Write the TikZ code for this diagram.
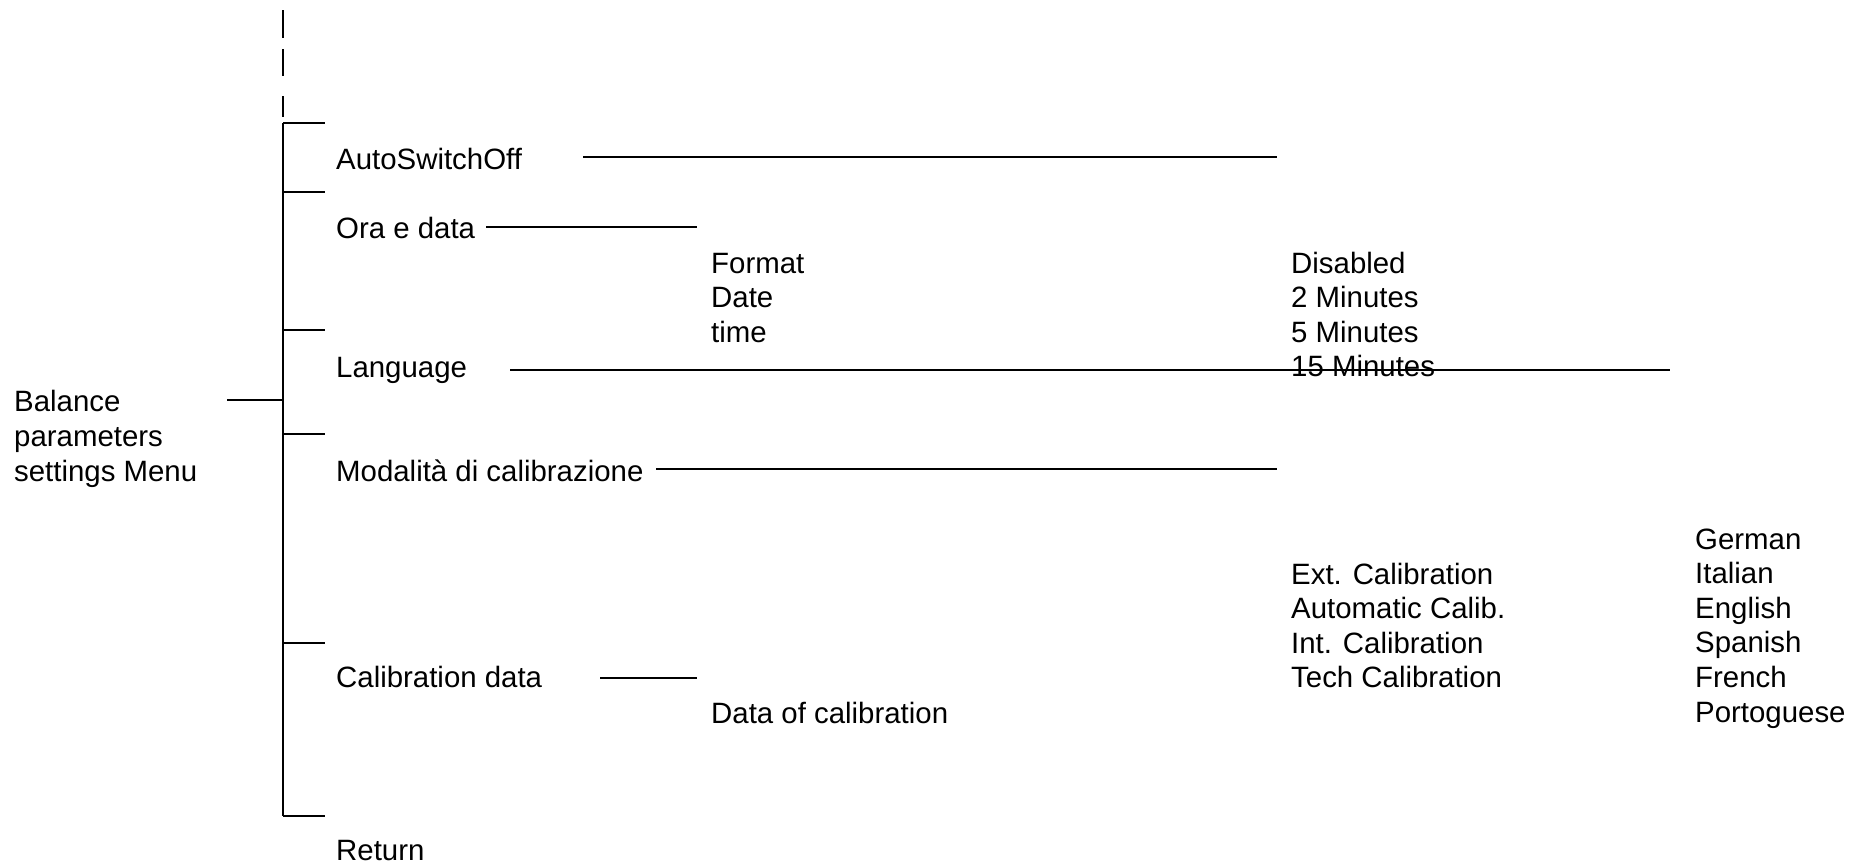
\documentclass[tikz,border=0pt]{standalone}
\usepackage{fontspec}
\setmainfont{Liberation Sans}
\begin{document}
\begin{tikzpicture}[x=1pt,y=-1pt,
  lbl/.style={inner sep=0pt, anchor=base west, font=\fontsize{29.4}{34.8}\selectfont},
  conn/.style={line width=2.4pt},
  thinconn/.style={line width=1.7pt}]
\useasboundingbox (0,0) rectangle (1851,863);
% trunk
\coordinate (dashTop) at (283,10);
\coordinate (dashBot) at (283,117);
\coordinate (trTop) at (283,123);
\coordinate (trBot) at (283,816);
\draw[conn, dash pattern=on 28pt off 11pt on 27pt off 20pt on 30pt off 10pt] (dashTop) -- (dashBot);
\draw[conn] (trTop) -- (trBot);
% ticks
\foreach \y [count=\i] in {123,192,330,434,643,816} {
  \coordinate (tA\i) at (283,\y);
  \coordinate (tB\i) at (325,\y);
  \draw[conn] (tA\i) -- (tB\i);
}
% root
\node[lbl, align=left] (bal) at (14,481) {Balance\\parameters\\settings Menu};
\coordinate (balR) at (227,400);
\coordinate (balT) at (283,400);
\draw[conn] (balR) -- (balT);
% first level
\node[lbl] (auto) at (336,169) {AutoSwitchOff};
\node[lbl] (ora) at (336,238) {Ora e data};
\node[lbl] (lang) at (336,377) {Language};
\node[lbl] (mod) at (336,481) {Modalità di calibrazione};
\node[lbl] (cal) at (336,687) {Calibration data};
\node[lbl] (ret) at (336,860) {Return};
% second level
\node[lbl] (fmt) at (711,273) {Format};
\node[lbl] (date) at (711,307.6) {Date};
\node[lbl] (time) at (711,342.2) {time};
\node[lbl] (doc) at (711,723) {Data of calibration};
\node[lbl] (dis) at (1291,273) {Disabled};
\node[lbl] (m2) at (1291,307.6) {2 Minutes};
\node[lbl] (m5) at (1291,342.2) {5 Minutes};
\node[lbl] (m15) at (1291,376.8) {15 Minutes};
\node[lbl] (ext) at (1291,584) {Ext. Calibration};
\node[lbl] (acal) at (1291,618.6) {Automatic Calib.};
\node[lbl] (ical) at (1291,653.2) {Int. Calibration};
\node[lbl] (tcal) at (1291,687.8) {Tech Calibration};
\node[lbl] (ger) at (1695,549) {German};
\node[lbl] (ita) at (1695,583.6) {Italian};
\node[lbl] (eng) at (1695,618.2) {English};
\node[lbl] (spa) at (1695,652.8) {Spanish};
\node[lbl] (fre) at (1695,687.4) {French};
\node[lbl] (por) at (1695,722) {Portoguese};
% connectors
\coordinate (autoL) at (583,157);  \coordinate (autoR) at (1277,157);
\coordinate (oraL) at (486,227);   \coordinate (oraR) at (697,227);
\coordinate (langL) at (510,370);  \coordinate (langR) at (1670,370);
\coordinate (modL) at (656,469);   \coordinate (modR) at (1277,469);
\coordinate (calL) at (600,678);   \coordinate (calR) at (697,678);
\draw[conn] (autoL) -- (autoR);
\draw[conn] (oraL) -- (oraR);
\draw[thinconn] (langL) -- (langR);
\draw[conn] (modL) -- (modR);
\draw[conn] (calL) -- (calR);
\end{tikzpicture}
\end{document}
